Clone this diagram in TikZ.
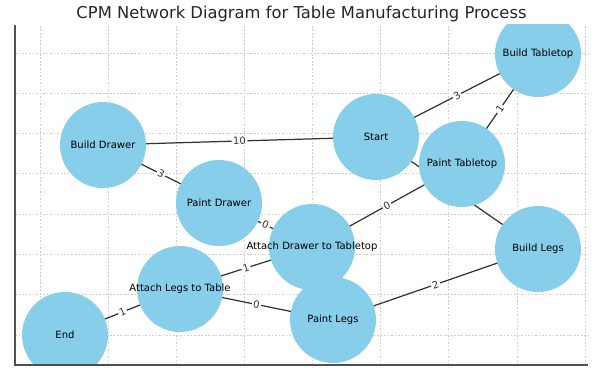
\documentclass[tikz,border=0pt]{standalone}
\usepackage{fontspec}
\setmainfont{DejaVu Sans}
\usepackage{tikz}
\usetikzlibrary{backgrounds}
\usepackage{xcolor}
\definecolor{skyblue}{RGB}{135,206,235}
\definecolor{edgegray}{RGB}{51,51,51}
\definecolor{gridgray}{RGB}{205,205,205}
\definecolor{spinegray}{RGB}{80,80,80}

\begin{document}
\begin{tikzpicture}[
  task/.style={circle, fill=skyblue, minimum size=1.72cm, inner sep=0pt, font=\fontsize{5.7}{6.8}\selectfont},
  link/.style={edgegray, line width=0.7pt},
  wlabel/.style={fill=white, inner sep=0.8pt, sloped, font=\fontsize{5.7}{6.8}\selectfont},
  gridline/.style={gridgray, line width=0.4pt, dash pattern=on 1pt off 1pt}]
  \useasboundingbox (0,0) rectangle (12,7.46);
  \node[anchor=base, black!85, font=\fontsize{9.3}{11}\selectfont] (title) at (6.03,7.08) {CPM Network Diagram for Table Manufacturing Process};
  % grid
  \begin{scope}[on background layer]
    \foreach \x in {0.8,2.1625,...,11.71} \draw[gridline] (\x,0.16) -- (\x,6.96);
    \foreach \y in {0.76,1.566,...,6.41} \draw[gridline] (0.3,\y) -- (11.76,\y);
  \end{scope}
  % tasks
  \begin{scope}
    \clip (0.3,0.16) rectangle (11.76,6.96);
    \node[task] (bt) at (10.76,6.38) {\makebox[0pt]{Build Tabletop}};
    \node[task] (st) at (7.52,4.72) {\makebox[0pt]{Start}};
    \node[task] (bd) at (2.06,4.56) {\makebox[0pt]{Build Drawer}};
    \node[task] (pt) at (9.24,4.18) {\makebox[0pt]{Paint Tabletop}};
    \node[task] (pd) at (4.38,3.40) {\makebox[0pt]{Paint Drawer}};
    \node[task] (adt) at (6.24,2.52) {\makebox[0pt]{Attach Drawer to Tabletop}};
    \node[task] (bl) at (10.76,2.48) {\makebox[0pt]{Build Legs}};
    \node[task] (alt) at (3.60,1.68) {\makebox[0pt]{Attach Legs to Table}};
    \node[task] (pl) at (6.66,1.06) {\makebox[0pt]{Paint Legs}};
    \node[task] (en) at (1.30,0.76) {\makebox[0pt]{End}};
  \end{scope}
  % durations
  \begin{scope}[on background layer]
    \draw[link] (st.center) -- (bl.center);
    \foreach \a/\b/\w in {bd/st/10, st/bt/3, bt/pt/1, bd/pd/3, pt/adt/0, pd/adt/0, adt/alt/1, alt/pl/0, bl/pl/2, alt/en/1}
      \draw[link] (\a.center) -- node[wlabel] {\w} (\b.center);
  \end{scope}
  % axes
  \draw[spinegray, line width=0.8pt] (0.3,6.96) -- (0.3,0.16) -- (11.76,0.16);
\end{tikzpicture}
\end{document}
